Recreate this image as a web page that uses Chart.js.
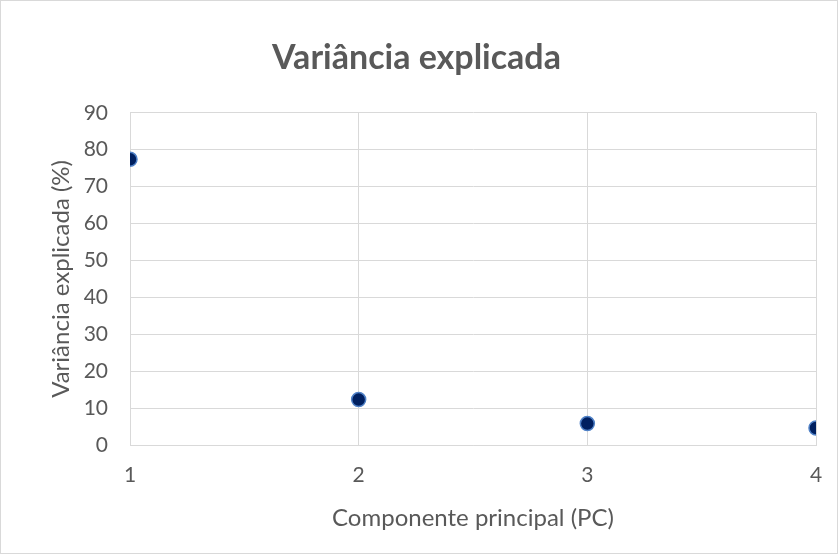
<!DOCTYPE html>
<html>
<head>
<meta charset="utf-8">
<script src="https://cdn.jsdelivr.net/npm/chart.js@4"></script>
<style>
  html, body { margin: 0; padding: 0; background: #fff; }
  #wrap { width: 836px; height: 552px; border: 1px solid #d9d9d9; position: relative; }
  canvas { display: block; }
</style>
</head>
<body>
<div id="wrap"><canvas id="chart" width="836" height="552"></canvas></div>
<script>
// data
const components = [1, 2, 3, 4];
const variance = [77.4, 12.3, 5.8, 4.6];
const yTicks = [0, 10, 20, 30, 40, 50, 60, 70, 80, 90];

const textGray = "#595959";
const gridGray = "#d9d9d9";

Chart.defaults.font.family = "Lato, 'Open Sans', sans-serif";
Chart.defaults.color = textGray;

const ctx = document.getElementById("chart").getContext("2d");

new Chart(ctx, {
    type: "scatter",
    data: {
        datasets: [{
            label: "Variância explicada",
            data: components.map((c, i) => ({ x: c, y: variance[i] })),
            backgroundColor: "#002060",
            borderColor: "#4f81c7",
            borderWidth: 1.5,
            pointRadius: 7,
            pointHoverRadius: 7
        }]
    },
    options: {
        responsive: false,
        animation: false,
        layout: { padding: { left: 16, right: 21, top: 0, bottom: 20 } },
        plugins: {
            legend: { display: false },
            tooltip: { enabled: false },
            title: {
                display: true,
                text: "Variância explicada",
                color: textGray,
                font: { size: 34, weight: "bold" },
                padding: { top: 37, bottom: 34 }
            }
        },
        scales: {
            x: {
                type: "linear",
                min: 1,
                max: 4,
                afterBuildTicks: axis => { axis.ticks = components.map(v => ({ value: v })); },
                ticks: { font: { size: 21 }, color: textGray, padding: 18 },
                grid: { color: gridGray, drawTicks: false },
                border: { color: gridGray },
                title: {
                    display: true,
                    text: "Componente principal (PC)",
                    font: { size: 24 },
                    color: textGray,
                    padding: { top: 0, bottom: 0 }
                },
                afterFit: axis => {
                    axis.height = 88;
                    axis.paddingLeft = 0;
                    axis.paddingRight = 0;
                }
            },
            y: {
                min: 0,
                max: 90,
                afterBuildTicks: axis => { axis.ticks = yTicks.map(v => ({ value: v })); },
                ticks: { font: { size: 21 }, color: textGray, padding: 22 },
                grid: { color: gridGray, drawTicks: false },
                border: { color: gridGray },
                title: {
                    display: true,
                    text: "Variância explicada (%)",
                    font: { size: 24 },
                    color: textGray,
                    padding: { top: 30, bottom: 0 }
                },
                afterFit: axis => { axis.width = 113; }
            }
        }
    }
});
</script>
</body>
</html>
